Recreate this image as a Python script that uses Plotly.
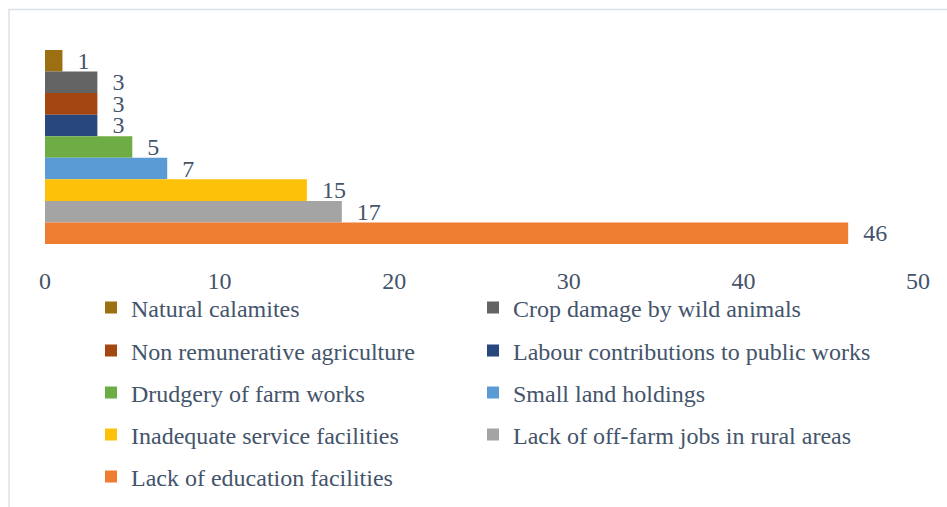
import plotly.graph_objects as go

causes = [
    "Natural calamites",
    "Crop damage by wild animals",
    "Non remunerative agriculture",
    "Labour contributions to public works",
    "Drudgery of farm works",
    "Small land holdings",
    "Inadequate service facilities",
    "Lack of off-farm jobs in rural areas",
    "Lack of education facilities",
]
values = [1, 3, 3, 3, 5, 7, 15, 17, 46]
colors = ["#9c6f12", "#646464", "#a3460f", "#27477e", "#6eac46",
          "#5a9bd6", "#fec10a", "#a4a4a4", "#ee7d32"]
x_ticks = [0, 10, 20, 30, 40, 50]
category = ["Reasons"]

FONT = "Liberation Serif, Times New Roman, serif"
TXT = "#44546a"
FS = 24

W, H = 947, 507
L, R, T, B = 45, 29, 40, 253
pw, ph = W - L - R, H - T - B

row_centers = [308, 351, 393, 435, 477]
col_lefts = [91, 473]

fig = go.Figure()
legends = {}
for i, (name, v, c) in enumerate(zip(causes, values, colors)):
    key = "legend" if i == 0 else f"legend{i + 1}"
    fig.add_trace(go.Bar(
        x=[v], y=category, name=name, orientation="h",
        marker=dict(color=c, line=dict(width=0)),
        text=[v], texttemplate="\u00a0\u00a0%{x}", textposition="outside",
        textfont=dict(family=FONT, size=FS, color=TXT),
        constraintext="none", cliponaxis=False,
        legend=key,
    ))
    cy = row_centers[i // 2]
    lx = col_lefts[i % 2]
    legends[key] = dict(
        orientation="h", x=(lx - L) / pw, xanchor="left",
        y=(T + ph - cy) / ph, yanchor="middle",
        font=dict(family=FONT, size=FS, color=TXT),
        bgcolor="rgba(0,0,0,0)",
    )

fig.update_layout(
    width=W, height=H,
    margin=dict(l=L, r=R, t=T, b=B, autoexpand=False),
    paper_bgcolor="white", plot_bgcolor="white",
    barmode="group", bargap=20 / ph, bargroupgap=0,
    showlegend=True,
    font=dict(family=FONT, size=FS, color=TXT),
    xaxis=dict(range=[0, 50], tickvals=x_ticks, showgrid=False, zeroline=False,
               showline=False, ticks="outside", ticklen=5, tickcolor="rgba(0,0,0,0)",
               tickfont=dict(family=FONT, size=FS, color=TXT)),
    yaxis=dict(range=[0.5, -0.5], showticklabels=False, showgrid=False,
               zeroline=False, showline=False),
    shapes=[dict(type="rect", xref="paper", yref="paper",
                 x0=(9 - L) / pw, x1=(965 - L) / pw,
                 y0=(T + ph - 530) / ph, y1=1 + (T - 9.5) / ph,
                 line=dict(color="#dbe0e6", width=1.5), fillcolor="rgba(0,0,0,0)",
                 layer="below")],
    **legends,
)

fig.write_html("out.html", config={"displayModeBar": False},
               post_script="document.body.style.margin='0';")
